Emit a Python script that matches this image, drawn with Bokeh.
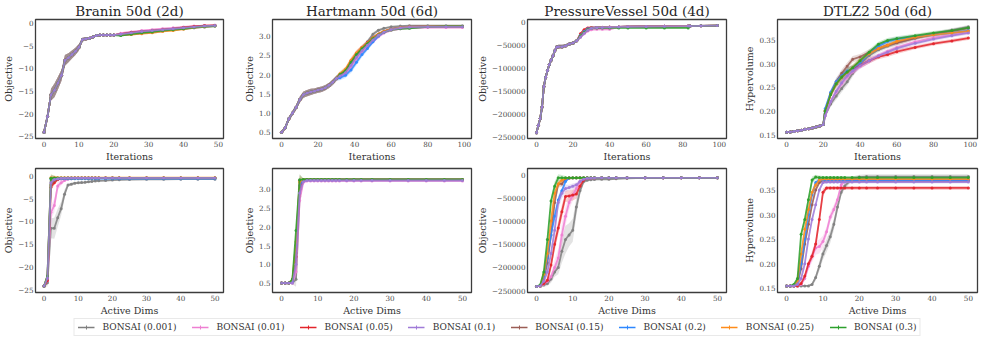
from bokeh.plotting import figure
from bokeh.layouts import column, row
from bokeh.models import Legend, LegendItem, FixedTicker, ColumnDataSource
from bokeh.embed import file_html
from bokeh.resources import INLINE

FONT = "DejaVu Serif"

series_labels = ["BONSAI (0.001)", "BONSAI (0.01)", "BONSAI (0.05)", "BONSAI (0.1)",
                 "BONSAI (0.15)", "BONSAI (0.2)", "BONSAI (0.25)", "BONSAI (0.3)"]
series_colors = ["#7f7f7f", "#ee7fd2", "#e3242b", "#a07bd8",
                 "#9b5d55", "#2d87ff", "#ff8c1a", "#2ca02c"]

titles = ["Branin 50d (2d)", "Hartmann 50d (6d)", "PressureVessel 50d (4d)", "DTLZ2 50d (6d)"]
ylabels = ["Objective", "Objective", "Objective", "Hypervolume"]

# ---------------- tick values / labels ----------------
iter50_ticks = [0, 10, 20, 30, 40, 50]
iter100_ticks = [0, 20, 40, 60, 80, 100]
dims_ticks = [0, 10, 20, 30, 40, 50]
branin_yticks = [-25, -20, -15, -10, -5, 0]
branin_ylabels = ["\u221225", "\u221220", "\u221215", "\u221210", "\u22125", "0"]
hart_yticks = [0.5, 1.0, 1.5, 2.0, 2.5, 3.0]
hart_ylabels = ["0.5", "1.0", "1.5", "2.0", "2.5", "3.0"]
pv_yticks = [-250000, -200000, -150000, -100000, -50000, 0]
pv_ylabels = ["\u2212250000", "\u2212200000", "\u2212150000", "\u2212100000", "\u221250000", "0"]
dtlz_yticks = [0.15, 0.20, 0.25, 0.30, 0.35]
dtlz_ylabels = ["0.15", "0.20", "0.25", "0.30", "0.35"]

# ---------------- TOP ROW: objective vs iterations ----------------
# Branin (shared initial design, then per-setting)
branin_it_init_x = [0, 1, 2, 3, 4, 5, 6, 7, 8, 9, 10, 11, 12, 13, 14, 15, 16, 17, 18, 19, 20]
branin_it_init_mean = [-24.1, -20.6, -15.8, -14.8, -13.2, -11.5, -8.2, -7.6, -6.9, -6.2, -5.3,
                       -3.6, -3.4, -3.3, -3.0, -2.7, -2.6, -2.6, -2.6, -2.6, -2.6]
branin_it_init_std = [0.2, 0.5, 1.3, 1.5, 1.4, 1.2, 1.2, 1.0, 0.9, 0.8, 0.7,
                      0.4, 0.4, 0.3, 0.3, 0.2, 0.2, 0.2, 0.2, 0.2, 0.2]
branin_it_tail_x = [22, 25, 28, 31, 34, 37, 40, 43, 46, 49]
branin_it_tail_std = [0.2, 0.2, 0.2, 0.2, 0.2, 0.15, 0.15, 0.15, 0.1, 0.1]
branin_it_a001 = [-2.4, -2.1, -1.8, -1.6, -1.4, -1.2, -1.0, -0.8, -0.6, -0.5]
branin_it_a01 = [-2.2, -1.9, -1.6, -1.4, -1.2, -1.0, -0.8, -0.6, -0.5, -0.45]
branin_it_a05 = [-2.4, -2.0, -1.8, -1.6, -1.4, -1.2, -0.9, -0.7, -0.5, -0.45]
branin_it_a10 = [-2.4, -2.1, -1.8, -1.6, -1.4, -1.2, -1.0, -0.8, -0.6, -0.5]
branin_it_a15 = [-2.4, -2.1, -1.85, -1.65, -1.45, -1.25, -1.0, -0.8, -0.6, -0.5]
branin_it_a20 = [-2.6, -2.4, -2.2, -2.0, -1.7, -1.4, -1.2, -1.0, -0.8, -0.6]
branin_it_a25 = [-2.6, -2.5, -2.3, -2.1, -1.8, -1.6, -1.3, -1.0, -0.8, -0.6]
branin_it_a30 = [-2.7, -2.4, -2.1, -1.9, -1.6, -1.4, -1.2, -0.9, -0.7, -0.6]

# Hartmann
hart_it_init_x = [0, 2, 4, 6, 8, 10, 12, 14, 16, 18, 20, 22, 24, 26, 28, 30]
hart_it_init_mean = [0.5, 0.62, 0.85, 1.0, 1.15, 1.35, 1.48, 1.52, 1.55, 1.57, 1.6, 1.62, 1.66, 1.72, 1.8, 1.9]
hart_it_init_std = [0.02, 0.05, 0.06, 0.06, 0.07, 0.08, 0.08, 0.08, 0.08, 0.07, 0.07, 0.07, 0.07, 0.07, 0.07, 0.07]
hart_it_tail_x = [32, 35, 38, 41, 44, 47, 50, 53, 56, 60, 65, 70, 80, 90, 99]
hart_it_tail_std = [0.07, 0.07, 0.08, 0.08, 0.07, 0.06, 0.05, 0.04, 0.03, 0.03, 0.02, 0.02, 0.02, 0.02, 0.02]
hart_it_a001 = [1.98, 2.08, 2.27, 2.5, 2.68, 2.85, 3.05, 3.15, 3.2, 3.24, 3.26, 3.27, 3.27, 3.27, 3.27]
hart_it_a01 = [1.95, 2.03, 2.2, 2.42, 2.6, 2.73, 2.85, 2.98, 3.08, 3.15, 3.19, 3.21, 3.22, 3.22, 3.22]
hart_it_a05 = [2.0, 2.12, 2.35, 2.55, 2.7, 2.83, 2.95, 3.05, 3.12, 3.18, 3.22, 3.24, 3.25, 3.25, 3.25]
hart_it_a10 = [1.96, 2.05, 2.24, 2.45, 2.62, 2.76, 2.9, 3.02, 3.1, 3.17, 3.21, 3.23, 3.24, 3.24, 3.24]
hart_it_a15 = [1.98, 2.08, 2.3, 2.5, 2.66, 2.8, 2.95, 3.05, 3.12, 3.18, 3.22, 3.24, 3.25, 3.25, 3.25]
hart_it_a20 = [1.92, 1.98, 2.12, 2.32, 2.52, 2.68, 2.85, 3.0, 3.1, 3.18, 3.22, 3.24, 3.25, 3.25, 3.25]
hart_it_a25 = [2.02, 2.14, 2.37, 2.56, 2.7, 2.82, 2.95, 3.05, 3.12, 3.18, 3.22, 3.24, 3.25, 3.25, 3.25]
hart_it_a30 = [2.0, 2.1, 2.32, 2.52, 2.67, 2.8, 2.93, 3.03, 3.1, 3.16, 3.19, 3.2, 3.24, 3.25, 3.25]

# PressureVessel
pv_it_init_x = [0, 1, 2, 3, 4, 5, 6, 7, 8, 9, 10, 11, 12, 14, 16, 18, 20, 22]
pv_it_init_mean = [-241000, -225000, -210000, -185000, -140000, -120000, -105000, -92000, -82000,
                   -73000, -62000, -54000, -53000, -53000, -51000, -47000, -45000, -40000]
pv_it_init_std = [1000, 4000, 6000, 8000, 8000, 8000, 7000, 6000, 6000,
                  5000, 5000, 4000, 4000, 4000, 4000, 3000, 3000, 3000]
pv_it_tail_x = [24, 26, 28, 30, 33, 36, 40, 45, 50, 60, 70, 83, 84, 90, 99]
pv_it_tail_std = [3000, 3000, 3000, 2000, 2000, 2000, 2000, 1500, 1500, 1500, 1500, 1500, 1500, 1500, 1500]
pv_it_a001 = [-32000, -24000, -17000, -13000, -11500, -11000, -10500, -10000, -9500, -9000, -8500, -8000, -8000, -7500, -7000]
pv_it_a01 = [-32000, -25000, -19000, -16000, -15000, -15000, -15000, -10000, -9500, -9000, -8500, -8000, -8000, -7500, -7000]
pv_it_a05 = [-25000, -16000, -12000, -11000, -11000, -10500, -10000, -10000, -9500, -9000, -8500, -8000, -8000, -7500, -7000]
pv_it_a10 = [-32000, -24000, -17000, -13000, -11500, -11000, -10500, -10000, -9500, -9000, -8500, -8000, -8000, -7500, -7000]
pv_it_a15 = [-30000, -22000, -16000, -12500, -11500, -11000, -10500, -10000, -9500, -9000, -8500, -8000, -8000, -7500, -7000]
pv_it_a20 = [-28000, -20000, -14000, -12000, -11000, -11000, -10500, -10000, -9500, -9000, -8500, -8000, -8000, -7500, -7000]
pv_it_a25 = [-30000, -22000, -16000, -12500, -11500, -11000, -10500, -10000, -9500, -9000, -8500, -8000, -8000, -7500, -7000]
pv_it_a30 = [-30000, -22000, -16000, -13000, -12500, -12000, -12000, -12000, -12000, -12000, -12000, -12000, -8000, -7500, -7000]

# DTLZ2
dtlz_it_init_x = [0, 2, 4, 6, 8, 10, 12, 14, 16, 18, 20]
dtlz_it_init_mean = [0.155, 0.1555, 0.1565, 0.158, 0.159, 0.161, 0.162, 0.164, 0.166, 0.168, 0.171]
dtlz_it_init_std = [0.002, 0.002, 0.002, 0.002, 0.002, 0.002, 0.002, 0.002, 0.002, 0.002, 0.002]
dtlz_it_tail_x = [21, 24, 27, 30, 33, 36, 40, 45, 50, 55, 60, 70, 80, 90, 99]
dtlz_it_tail_std = [0.004, 0.006, 0.008, 0.008, 0.008, 0.007, 0.006, 0.006, 0.005, 0.005, 0.005, 0.004, 0.004, 0.004, 0.004]
dtlz_it_a001 = [0.19, 0.215, 0.232, 0.248, 0.262, 0.28, 0.3, 0.318, 0.33, 0.338, 0.345, 0.355, 0.364, 0.372, 0.379]
dtlz_it_a01 = [0.19, 0.22, 0.24, 0.258, 0.272, 0.283, 0.295, 0.307, 0.318, 0.327, 0.335, 0.347, 0.356, 0.362, 0.367]
dtlz_it_a05 = [0.2, 0.235, 0.258, 0.272, 0.283, 0.29, 0.297, 0.307, 0.315, 0.32, 0.326, 0.335, 0.343, 0.349, 0.355]
dtlz_it_a10 = [0.19, 0.22, 0.242, 0.26, 0.275, 0.285, 0.296, 0.307, 0.317, 0.325, 0.333, 0.344, 0.353, 0.36, 0.366]
dtlz_it_a15 = [0.2, 0.238, 0.262, 0.28, 0.295, 0.31, 0.315, 0.325, 0.333, 0.34, 0.345, 0.355, 0.363, 0.37, 0.376]
dtlz_it_a20 = [0.205, 0.24, 0.262, 0.275, 0.285, 0.29, 0.303, 0.322, 0.338, 0.348, 0.353, 0.358, 0.362, 0.366, 0.371]
dtlz_it_a25 = [0.2, 0.235, 0.258, 0.272, 0.282, 0.292, 0.307, 0.322, 0.333, 0.34, 0.348, 0.357, 0.362, 0.366, 0.37]
dtlz_it_a30 = [0.2, 0.235, 0.258, 0.272, 0.283, 0.292, 0.307, 0.325, 0.342, 0.35, 0.354, 0.36, 0.366, 0.371, 0.377]

# ---------------- BOTTOM ROW: objective vs active dims ----------------
dims_x = [0, 1, 2, 3, 4, 5, 6, 7, 8, 9,
          10, 11, 12, 13, 14, 15, 16, 18, 20, 22,
          25, 30, 35, 40, 45, 50]

branin_dims_a001 = [-24.2, -23.5, -11.5, -11.5, -9.2, -7.2, -4.0, -2.0, -1.8, -1.6,
                    -1.5, -1.45, -1.4, -1.3, -1.2, -1.1, -1.05, -1.0, -0.9, -0.85,
                    -0.8, -0.75, -0.72, -0.7, -0.7, -0.7]
branin_dims_a01 = [-24.2, -23.0, -8.0, -6.5, -2.2, -1.5, -1.0, -0.7, -0.6, -0.55,
                   -0.5, -0.5, -0.5, -0.5, -0.48, -0.48, -0.47, -0.47, -0.46, -0.46,
                   -0.45, -0.45, -0.45, -0.45, -0.45, -0.45]
branin_dims_a05 = [-24.2, -23.0, -2.5, -1.5, -0.8, -0.6, -0.5, -0.5, -0.48, -0.47,
                   -0.46, -0.45, -0.45, -0.45, -0.45, -0.45, -0.45, -0.45, -0.45, -0.45,
                   -0.45, -0.45, -0.45, -0.45, -0.45, -0.45]
branin_dims_a10 = [-24.2, -22.5, -1.5, -0.8, -0.6, -0.5, -0.48, -0.47, -0.46, -0.45,
                   -0.45, -0.45, -0.45, -0.45, -0.45, -0.45, -0.45, -0.45, -0.45, -0.45,
                   -0.45, -0.45, -0.45, -0.45, -0.45, -0.45]
branin_dims_a15 = [-24.2, -22.5, -2.0, -1.0, -0.6, -0.5, -0.48, -0.47, -0.46, -0.45,
                   -0.45, -0.45, -0.45, -0.45, -0.45, -0.45, -0.45, -0.45, -0.45, -0.45,
                   -0.45, -0.45, -0.45, -0.45, -0.45, -0.45]
branin_dims_a20 = [-24.2, -22.0, -0.6, -0.6, -0.6, -0.6, -0.6, -0.6, -0.6, -0.6,
                   -0.6, -0.6, -0.6, -0.6, -0.6, -0.6, -0.6, -0.6, -0.6, -0.6,
                   -0.6, -0.6, -0.6, -0.6, -0.6, -0.6]
branin_dims_a25 = [-24.2, -22.0, -0.4, -0.4, -0.4, -0.4, -0.4, -0.4, -0.4, -0.4,
                   -0.4, -0.4, -0.4, -0.4, -0.4, -0.4, -0.4, -0.4, -0.4, -0.4,
                   -0.4, -0.4, -0.4, -0.4, -0.4, -0.4]
branin_dims_a30 = [-24.2, -22.0, -0.5, -0.45, -0.45, -0.45, -0.45, -0.45, -0.45, -0.45,
                   -0.45, -0.45, -0.45, -0.45, -0.45, -0.45, -0.45, -0.45, -0.45, -0.45,
                   -0.45, -0.45, -0.45, -0.45, -0.45, -0.45]
branin_dims_std_a001 = [0.2, 0.8, 2.2, 2.3, 2.0, 1.5, 1.0, 0.4, 0.3, 0.3,
                        0.2, 0.2, 0.2, 0.2, 0.15, 0.15, 0.15, 0.1, 0.1, 0.1,
                        0.1, 0.1, 0.1, 0.1, 0.1, 0.1]
branin_dims_std_a01 = [0.2, 0.8, 1.5, 1.5, 1.0, 0.6, 0.3, 0.2, 0.1, 0.1,
                       0.1, 0.1, 0.1, 0.1, 0.1, 0.1, 0.1, 0.1, 0.1, 0.1,
                       0.1, 0.1, 0.1, 0.1, 0.1, 0.1]
branin_dims_std_rest = [0.2, 0.8, 0.8, 0.5, 0.3, 0.2, 0.1, 0.1, 0.1, 0.1,
                        0.1, 0.1, 0.1, 0.1, 0.1, 0.1, 0.1, 0.1, 0.1, 0.1,
                        0.1, 0.1, 0.1, 0.1, 0.1, 0.1]

hart_dims_a001 = [0.5, 0.5, 0.5, 0.5, 0.6, 2.8, 3.23, 3.25, 3.25, 3.25,
                  3.25, 3.25, 3.25, 3.25, 3.25, 3.25, 3.25, 3.25, 3.25, 3.25,
                  3.25, 3.25, 3.25, 3.25, 3.25, 3.25]
hart_dims_a01 = [0.5, 0.5, 0.5, 0.5, 0.8, 2.7, 3.18, 3.22, 3.22, 3.22,
                 3.22, 3.22, 3.22, 3.22, 3.22, 3.22, 3.22, 3.22, 3.22, 3.22,
                 3.22, 3.22, 3.22, 3.22, 3.22, 3.22]
hart_dims_a05 = [0.5, 0.5, 0.5, 0.55, 1.2, 3.0, 3.24, 3.25, 3.25, 3.25,
                 3.25, 3.25, 3.25, 3.25, 3.25, 3.25, 3.25, 3.25, 3.25, 3.25,
                 3.25, 3.25, 3.25, 3.25, 3.25, 3.25]
hart_dims_a10 = [0.5, 0.5, 0.5, 0.5, 1.0, 2.9, 3.2, 3.23, 3.23, 3.23,
                 3.23, 3.23, 3.23, 3.23, 3.23, 3.23, 3.23, 3.23, 3.23, 3.23,
                 3.23, 3.23, 3.23, 3.23, 3.23, 3.23]
hart_dims_a15 = [0.5, 0.5, 0.5, 0.55, 1.3, 3.24, 3.25, 3.26, 3.26, 3.26,
                 3.26, 3.26, 3.26, 3.26, 3.26, 3.26, 3.26, 3.26, 3.26, 3.26,
                 3.26, 3.26, 3.26, 3.26, 3.26, 3.26]
hart_dims_a20 = [0.5, 0.5, 0.5, 0.55, 1.5, 3.1, 3.26, 3.26, 3.26, 3.26,
                 3.26, 3.26, 3.26, 3.26, 3.26, 3.26, 3.26, 3.26, 3.26, 3.26,
                 3.26, 3.26, 3.26, 3.26, 3.26, 3.26]
hart_dims_a25 = [0.5, 0.5, 0.5, 0.6, 1.6, 3.2, 3.26, 3.26, 3.26, 3.26,
                 3.26, 3.26, 3.26, 3.26, 3.26, 3.26, 3.26, 3.26, 3.26, 3.26,
                 3.26, 3.26, 3.26, 3.26, 3.26, 3.26]
hart_dims_a30 = [0.5, 0.5, 0.5, 0.6, 1.9, 3.25, 3.26, 3.26, 3.26, 3.26,
                 3.26, 3.26, 3.26, 3.26, 3.26, 3.26, 3.26, 3.26, 3.26, 3.26,
                 3.26, 3.26, 3.26, 3.26, 3.26, 3.26]
hart_dims_std = [0.01, 0.01, 0.01, 0.03, 0.2, 0.15, 0.03, 0.02, 0.02, 0.02,
                 0.02, 0.02, 0.02, 0.02, 0.02, 0.02, 0.02, 0.02, 0.02, 0.02,
                 0.02, 0.02, 0.02, 0.02, 0.02, 0.02]

pv_dims_a001 = [-241000, -240000, -238000, -235000, -225000, -210000, -200000, -165000, -140000, -130000,
                -120000, -70000, -35000, -15000, -12000, -11000, -10500, -10000, -10000, -9000,
                -8000, -7000, -7000, -7000, -7000, -7000]
pv_dims_a01 = [-241000, -240000, -236000, -230000, -220000, -200000, -180000, -130000, -90000, -60000,
               -45000, -30000, -15000, -10000, -8000, -7500, -7200, -7000, -7000, -7000,
               -7000, -7000, -7000, -7000, -7000, -7000]
pv_dims_a05 = [-241000, -240000, -235000, -228000, -195000, -150000, -115000, -80000, -47000, -46000,
               -44000, -42000, -25000, -12000, -8000, -7500, -7200, -7000, -7000, -7000,
               -7000, -7000, -7000, -7000, -7000, -7000]
pv_dims_a10 = [-241000, -240000, -230000, -210000, -170000, -120000, -60000, -40000, -30000, -28000,
               -25000, -22000, -15000, -10000, -8000, -7500, -7200, -7000, -7000, -7000,
               -7000, -7000, -7000, -7000, -7000, -7000]
pv_dims_a15 = [-241000, -240000, -225000, -190000, -130000, -60000, -20000, -20000, -10000, -8000,
               -7500, -7200, -7000, -7000, -7000, -7000, -7000, -7000, -7000, -7000,
               -7000, -7000, -7000, -7000, -7000, -7000]
pv_dims_a20 = [-241000, -240000, -220000, -180000, -130000, -90000, -55000, -35000, -15000, -7000,
               -7000, -7000, -7000, -7000, -7000, -7000, -7000, -7000, -7000, -7000,
               -7000, -7000, -7000, -7000, -7000, -7000]
pv_dims_a25 = [-241000, -240000, -215000, -170000, -100000, -40000, -20000, -12000, -8000, -7000,
               -7000, -7000, -7000, -7000, -7000, -7000, -7000, -7000, -7000, -7000,
               -7000, -7000, -7000, -7000, -7000, -7000]
pv_dims_a30 = [-241000, -238000, -210000, -140000, -57000, -25000, -7000, -7000, -7000, -7000,
               -7000, -7000, -7000, -7000, -7000, -7000, -7000, -7000, -7000, -7000,
               -7000, -7000, -7000, -7000, -7000, -7000]
pv_dims_std_a001 = [1000, 2000, 3000, 5000, 8000, 10000, 15000, 25000, 30000, 25000,
                    25000, 20000, 10000, 5000, 3000, 2000, 1500, 1000, 1000, 1000,
                    1000, 1000, 1000, 1000, 1000, 1000]
pv_dims_std_a01 = [1000, 2000, 4000, 6000, 10000, 15000, 20000, 25000, 20000, 15000,
                   12000, 10000, 5000, 3000, 2000, 1000, 1000, 1000, 1000, 1000,
                   1000, 1000, 1000, 1000, 1000, 1000]
pv_dims_std_a05 = [1000, 2000, 4000, 6000, 10000, 15000, 15000, 15000, 12000, 12000,
                   12000, 10000, 8000, 4000, 2000, 1000, 1000, 1000, 1000, 1000,
                   1000, 1000, 1000, 1000, 1000, 1000]
pv_dims_std_a10 = [1000, 2000, 5000, 8000, 10000, 15000, 15000, 12000, 8000, 6000,
                   6000, 5000, 4000, 2000, 1000, 1000, 1000, 1000, 1000, 1000,
                   1000, 1000, 1000, 1000, 1000, 1000]
pv_dims_std_rest = [1000, 2000, 5000, 8000, 10000, 10000, 8000, 6000, 4000, 1000,
                    1000, 1000, 1000, 1000, 1000, 1000, 1000, 1000, 1000, 1000,
                    1000, 1000, 1000, 1000, 1000, 1000]

dtlz_dims_a001 = [0.155, 0.155, 0.155, 0.155, 0.155, 0.155, 0.155, 0.158, 0.172, 0.195,
                  0.22, 0.237, 0.255, 0.28, 0.315, 0.345, 0.358, 0.372, 0.376, 0.377,
                  0.377, 0.377, 0.377, 0.377, 0.377, 0.377]
dtlz_dims_a01 = [0.155, 0.155, 0.155, 0.155, 0.158, 0.17, 0.195, 0.215, 0.232, 0.235,
                 0.245, 0.265, 0.295, 0.31, 0.33, 0.36, 0.368, 0.37, 0.37, 0.37,
                 0.37, 0.37, 0.37, 0.37, 0.37, 0.37]
dtlz_dims_a05 = [0.155, 0.155, 0.155, 0.155, 0.16, 0.175, 0.2, 0.215, 0.24, 0.29,
                 0.345, 0.354, 0.354, 0.354, 0.354, 0.354, 0.354, 0.354, 0.354, 0.354,
                 0.354, 0.354, 0.354, 0.354, 0.354, 0.354]
dtlz_dims_a10 = [0.155, 0.155, 0.155, 0.158, 0.17, 0.2, 0.25, 0.29, 0.32, 0.35,
                 0.365, 0.366, 0.366, 0.366, 0.366, 0.366, 0.366, 0.366, 0.366, 0.366,
                 0.366, 0.366, 0.366, 0.366, 0.366, 0.366]
dtlz_dims_a15 = [0.155, 0.155, 0.155, 0.16, 0.19, 0.24, 0.28, 0.32, 0.35, 0.365,
                 0.368, 0.368, 0.368, 0.368, 0.368, 0.368, 0.368, 0.368, 0.368, 0.368,
                 0.368, 0.368, 0.368, 0.368, 0.368, 0.368]
dtlz_dims_a20 = [0.155, 0.155, 0.155, 0.16, 0.2, 0.25, 0.3, 0.34, 0.365, 0.37,
                 0.37, 0.37, 0.37, 0.37, 0.37, 0.37, 0.37, 0.37, 0.37, 0.37,
                 0.37, 0.37, 0.37, 0.37, 0.37, 0.37]
dtlz_dims_a25 = [0.155, 0.155, 0.155, 0.165, 0.22, 0.27, 0.31, 0.345, 0.36, 0.37,
                 0.372, 0.372, 0.372, 0.372, 0.372, 0.372, 0.372, 0.372, 0.372, 0.372,
                 0.372, 0.372, 0.372, 0.372, 0.372, 0.372]
dtlz_dims_a30 = [0.155, 0.155, 0.158, 0.17, 0.26, 0.29, 0.33, 0.37, 0.376, 0.375,
                 0.375, 0.375, 0.375, 0.375, 0.375, 0.375, 0.375, 0.375, 0.375, 0.375,
                 0.375, 0.375, 0.375, 0.375, 0.375, 0.375]
dtlz_dims_std_a001 = [0.001, 0.001, 0.001, 0.001, 0.001, 0.001, 0.001, 0.003, 0.006, 0.01,
                      0.012, 0.013, 0.013, 0.012, 0.01, 0.008, 0.006, 0.005, 0.005, 0.005,
                      0.005, 0.005, 0.005, 0.005, 0.005, 0.005]
dtlz_dims_std_a01 = [0.001, 0.001, 0.001, 0.001, 0.002, 0.004, 0.008, 0.012, 0.014, 0.014,
                     0.012, 0.01, 0.01, 0.01, 0.008, 0.006, 0.005, 0.004, 0.004, 0.004,
                     0.004, 0.004, 0.004, 0.004, 0.004, 0.004]
dtlz_dims_std_a05 = [0.001, 0.001, 0.001, 0.001, 0.002, 0.004, 0.006, 0.008, 0.01, 0.01,
                     0.008, 0.004, 0.004, 0.004, 0.004, 0.004, 0.004, 0.004, 0.004, 0.004,
                     0.004, 0.004, 0.004, 0.004, 0.004, 0.004]
dtlz_dims_std_rest = [0.001, 0.001, 0.002, 0.003, 0.006, 0.008, 0.008, 0.007, 0.005, 0.004,
                      0.003, 0.003, 0.003, 0.003, 0.003, 0.003, 0.003, 0.003, 0.003, 0.003,
                      0.003, 0.003, 0.003, 0.003, 0.003, 0.003]

# ---------------- assemble ----------------
def join_top(init_x, init_mean, init_std, tail_x, tail_std, tails):
    x = list(init_x) + list(tail_x)
    means = [list(init_mean) + list(t) for t in tails]
    std = list(init_std) + list(tail_std)
    return x, means, [std] * len(tails)

top_panels = [
    join_top(branin_it_init_x, branin_it_init_mean, branin_it_init_std, branin_it_tail_x, branin_it_tail_std,
             [branin_it_a001, branin_it_a01, branin_it_a05, branin_it_a10, branin_it_a15, branin_it_a20, branin_it_a25, branin_it_a30]),
    join_top(hart_it_init_x, hart_it_init_mean, hart_it_init_std, hart_it_tail_x, hart_it_tail_std,
             [hart_it_a001, hart_it_a01, hart_it_a05, hart_it_a10, hart_it_a15, hart_it_a20, hart_it_a25, hart_it_a30]),
    join_top(pv_it_init_x, pv_it_init_mean, pv_it_init_std, pv_it_tail_x, pv_it_tail_std,
             [pv_it_a001, pv_it_a01, pv_it_a05, pv_it_a10, pv_it_a15, pv_it_a20, pv_it_a25, pv_it_a30]),
    join_top(dtlz_it_init_x, dtlz_it_init_mean, dtlz_it_init_std, dtlz_it_tail_x, dtlz_it_tail_std,
             [dtlz_it_a001, dtlz_it_a01, dtlz_it_a05, dtlz_it_a10, dtlz_it_a15, dtlz_it_a20, dtlz_it_a25, dtlz_it_a30]),
]
bottom_panels = [
    (dims_x, [branin_dims_a001, branin_dims_a01, branin_dims_a05, branin_dims_a10, branin_dims_a15, branin_dims_a20, branin_dims_a25, branin_dims_a30],
     [branin_dims_std_a001, branin_dims_std_a01] + [branin_dims_std_rest] * 6),
    (dims_x, [hart_dims_a001, hart_dims_a01, hart_dims_a05, hart_dims_a10, hart_dims_a15, hart_dims_a20, hart_dims_a25, hart_dims_a30],
     [hart_dims_std] * 8),
    (dims_x, [pv_dims_a001, pv_dims_a01, pv_dims_a05, pv_dims_a10, pv_dims_a15, pv_dims_a20, pv_dims_a25, pv_dims_a30],
     [pv_dims_std_a001, pv_dims_std_a01, pv_dims_std_a05, pv_dims_std_a10] + [pv_dims_std_rest] * 4),
    (dims_x, [dtlz_dims_a001, dtlz_dims_a01, dtlz_dims_a05, dtlz_dims_a10, dtlz_dims_a15, dtlz_dims_a20, dtlz_dims_a25, dtlz_dims_a30],
     [dtlz_dims_std_a001, dtlz_dims_std_a01, dtlz_dims_std_a05] + [dtlz_dims_std_rest] * 5),
]
top_xticks = [iter50_ticks, iter100_ticks, iter100_ticks, iter100_ticks]
yticks = [branin_yticks, hart_yticks, pv_yticks, dtlz_yticks]
ylabs = [branin_ylabels, hart_ylabels, pv_ylabels, dtlz_ylabels]

# drawing order of the series (purple ends up on top, as in the original)
DRAW_ORDER = [0, 1, 2, 4, 5, 6, 7, 3]

# ---------------- layout sizes ----------------
WIDTHS = [226, 248, 255, 251]
LEFTS = [24, 46, 52, 48]
RIGHT = 3
TOP_H, BOT_H, LEG_H = 164, 154, 18


def style(p, xlabel, ylabel, xt, yt, ylab):
    p.x_range.range_padding = 0.1
    p.y_range.range_padding = 0.1
    p.xgrid.visible = False
    p.ygrid.visible = False
    p.outline_line_color = "#3c3c3c"
    p.outline_line_width = 1.3
    p.background_fill_color = "white"
    p.border_fill_color = "white"
    p.xaxis.ticker = FixedTicker(ticks=xt)
    p.yaxis.ticker = FixedTicker(ticks=yt)
    p.yaxis.major_label_overrides = {t: l for t, l in zip(yt, ylab)}
    p.xaxis.axis_label = xlabel
    p.yaxis.axis_label = ylabel
    for ax in (p.xaxis[0], p.yaxis[0]):
        ax.axis_line_color = None
        ax.major_tick_line_color = None
        ax.minor_tick_line_color = None
        ax.major_tick_out = 0
        ax.major_label_text_font = FONT
        ax.major_label_text_font_size = "7.2px"
        ax.major_label_text_color = "#4a4a4a"
        ax.axis_label_text_font = FONT
        ax.axis_label_text_font_size = "9.5px"
        ax.axis_label_text_font_style = "normal"
        ax.axis_label_text_color = "#333333"
        ax.major_label_standoff = 2
        ax.axis_label_standoff = 1


def draw(p, x, means, stds):
    srcs = []
    for m, s in zip(means, stds):
        lo = [a - b for a, b in zip(m, s)]
        hi = [a + b for a, b in zip(m, s)]
        srcs.append(ColumnDataSource(dict(x=list(x), y=list(m), lo=lo, hi=hi)))
    for k in DRAW_ORDER:
        p.varea(x="x", y1="lo", y2="hi", source=srcs[k], fill_color=series_colors[k], fill_alpha=0.22)
    for k in DRAW_ORDER:
        c = series_colors[k]
        p.line(x="x", y="y", source=srcs[k], line_color=c, line_width=1.8, line_alpha=0.85)
        p.scatter(x="x", y="y", source=srcs[k], marker="circle", size=3,
                  line_color=None, fill_color=c, fill_alpha=0.9)


top_figs, bot_figs = [], []
for i in range(4):
    p = figure(width=WIDTHS[i], height=TOP_H, output_backend="svg", toolbar_location=None,
               min_border_left=LEFTS[i], min_border_right=RIGHT, min_border_top=0, min_border_bottom=0,
               title=titles[i])
    p.title.text_font = FONT
    p.title.text_font_size = "13.5px"
    p.title.text_font_style = "normal"
    p.title.text_color = "#262626"
    p.title.align = "center"
    p.title.standoff = 1
    x, means, stds = top_panels[i]
    draw(p, x, means, stds)
    style(p, "Iterations", ylabels[i], top_xticks[i], yticks[i], ylabs[i])
    top_figs.append(p)

    q = figure(width=WIDTHS[i], height=BOT_H, output_backend="svg", toolbar_location=None,
               min_border_left=LEFTS[i], min_border_right=RIGHT, min_border_top=4, min_border_bottom=0)
    x, means, stds = bottom_panels[i]
    draw(q, x, means, stds)
    style(q, "Active Dims", ylabels[i], dims_ticks, yticks[i], ylabs[i])
    bot_figs.append(q)

# legend strip (legend renderers carry no visible data: a single NaN sample)
leg = figure(width=sum(WIDTHS), height=LEG_H, output_backend="svg", toolbar_location=None,
             min_border=0, min_border_left=14, outline_line_color=None)
leg.xaxis.visible = False
leg.yaxis.visible = False
leg.xgrid.visible = False
leg.ygrid.visible = False
NAN = float("nan")
items = []
for lab, c in zip(series_labels, series_colors):
    r1 = leg.line(x=[NAN, NAN], y=[NAN, NAN], line_color=c, line_width=1.5)
    r2 = leg.scatter(x=[NAN], y=[NAN], marker="cross", size=5, line_color=c, line_width=1)
    items.append(LegendItem(label=lab, renderers=[r1, r2]))
legend = Legend(items=items, orientation="horizontal", location="center",
                label_text_font=FONT, label_text_font_size="9px", label_text_color="#333333",
                glyph_width=17, glyph_height=10, label_height=10, label_standoff=8,
                spacing=15, padding=3, margin=0,
                border_line_color="#d4d4d4", border_line_width=1,
                background_fill_color="white", background_fill_alpha=1)
leg.add_layout(legend, "center")

layout = column(row(*top_figs, spacing=0), row(*bot_figs, spacing=0), leg, spacing=0)
open("out.html", "w").write(file_html(layout, INLINE))
